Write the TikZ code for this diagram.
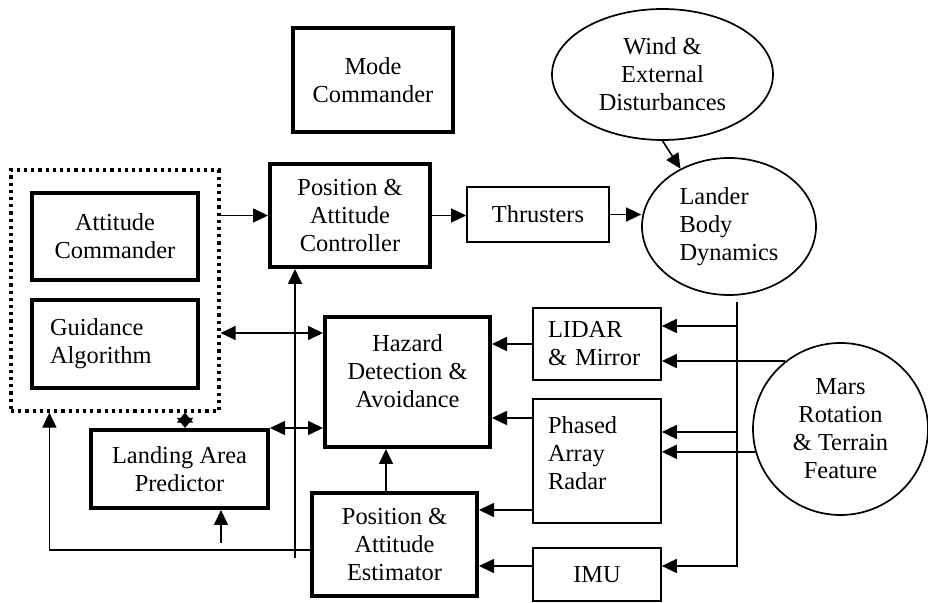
\documentclass[tikz,border=0pt]{standalone}
\usepackage{fontspec}
\setmainfont{Liberation Serif}
\usetikzlibrary{shapes.geometric, arrows.meta, positioning, fit}

\begin{document}
\begin{tikzpicture}[
    x=0.5pt, y=-0.5pt,
    every node/.style={font=\fontsize{12.2}{14}\selectfont},
    mainbox/.style={draw, line width=2pt, align=center, inner sep=2pt},
    sensorbox/.style={draw, line width=0.85pt, align=center, inner sep=2pt},
    envblob/.style={ellipse, draw, line width=0.85pt, align=center, inner sep=0pt},
    grpbox/.style={draw, line width=1.6pt, dash pattern=on 1.6pt off 2pt},
    flow/.style={-{Triangle[length=7.5pt,width=7pt]}, line width=0.8pt},
    dflow/.style={{Triangle[length=7.5pt,width=7pt]}-{Triangle[length=7.5pt,width=7pt]}, line width=0.8pt}
]
    \useasboundingbox (0,0) rectangle (928,603);

    % on-board blocks
    \node[mainbox, minimum width=80pt, minimum height=52pt] (mode) at (373,80) {Mode\\Commander};
    \node[mainbox, minimum width=80pt, minimum height=51.5pt] (ctrl) at (350,215.5) {Position \&\\Attitude\\Controller};
    \node[mainbox, minimum width=83pt, minimum height=43.5pt] (att) at (115,236.5) {Attitude\\Commander};
    \node[mainbox, text width=65pt, inner xsep=9pt, align=left, minimum height=44pt] (guid) at (115,344) {Guidance\\Algorithm};
    \node[grpbox, fit=(att)(guid), inner xsep=9.5pt, inner ysep=10.5pt] (grp) {};
    \node[mainbox, minimum width=82.5pt, minimum height=65pt, text depth=11pt] (hazard) at (407.5,382) {Hazard\\Detection \&\\Avoidance};
    \node[mainbox, minimum width=88.5pt, minimum height=39pt] (lap) at (179.5,469) {Landing Area\\Predictor};
    \node[mainbox, minimum width=82.5pt, minimum height=51.5pt] (est) at (394.5,544.5) {Position \&\\Attitude\\Estimator};

    % sensors and actuators
    \node[sensorbox, text width=49pt, inner xsep=7.5pt, align=left, minimum height=36pt] (lidar) at (597,344) {LIDAR\\\& Mirror};
    \node[sensorbox, text width=49pt, inner xsep=7.5pt, align=left, minimum height=62pt, text depth=36pt] (radar) at (597,461) {Phased\\Array\\Radar};
    \node[sensorbox, minimum width=64pt, minimum height=26.5pt] (imu) at (597,574.5) {IMU};
    \node[sensorbox, minimum width=71pt, minimum height=27.5pt] (thr) at (538,214.5) {Thrusters};

    % environment
    \node[envblob, minimum width=110.5pt, minimum height=65.5pt] (wind) at (662.5,74.5) {Wind \&\\External\\Disturbances};
    \node[envblob, minimum width=87pt, minimum height=68.5pt, align=left] (lander) at (729,226.5) {Lander\\Body\\Dynamics};
    \node[envblob, minimum width=87.5pt, minimum height=86pt] (mars) at (840.5,429) {Mars\\Rotation\\\& Terrain\\Feature};

    % free ends
    \coordinate (bustop) at ([xshift=4pt,yshift=-3pt]lander.south);
    \coordinate (lidarin) at ([yshift=9pt]lidar.east);
    \coordinate (radarin) at ([yshift=14.5pt]radar.east);
    \coordinate (imuin) at ([yshift=4.25pt]imu.east);
    \coordinate (guidlink) at ([yshift=5.5pt]guid.east);
    \coordinate (fbend) at (295,558);
    \coordinate (lapin) at (221,543);

    % connectors
    \draw[flow] (grp.east |- ctrl.west) -- (ctrl.west);
    \draw[flow] (ctrl.east) -- (ctrl.east -| thr.west);
    \draw[flow] (thr.east) -- (thr.east -| lander.west);
    \draw[flow] (wind.south) -- (lander.130);
    \draw[flow] (bustop) |- (imuin);
    \draw[flow] (bustop |- lidarin) -- (lidarin);
    \draw[flow] (bustop |- radarin) -- (radarin);
    \draw[flow] (mars.129) -- (mars.129 -| lidar.east);
    \draw[flow] (mars.195) -- (mars.195 -| radar.east);
    \draw[flow] (lidar.west) -- (lidar.west -| hazard.east);
    \draw[flow] ([yshift=21.5pt]radar.west) -- ([yshift=21.5pt]radar.west -| hazard.east);
    \draw[flow] ([yshift=-24.5pt]radar.west) -- ([yshift=-24.5pt]radar.west -| est.east);
    \draw[flow] ([yshift=4.25pt]imu.west) -- ([yshift=4.25pt]imu.west -| est.east);
    \draw[flow] ([xshift=-4.25pt]est.north) -- ([xshift=-4.25pt]est.north |- hazard.south);
    \draw[dflow] (grp.east |- guidlink) -- (hazard.west |- guidlink);
    \draw[dflow, {Triangle[length=5pt,width=8pt]}-{Triangle[length=5pt,width=8pt]}] ([xshift=2.75pt]lap.north) -- ([xshift=2.75pt]lap.north |- grp.south);
    \draw[dflow] (lap.north east) -- (lap.north east -| hazard.west);
    \draw[flow] ([yshift=-2.75pt]est.west) -| ([xshift=20pt]grp.south west);
    \draw[flow] (fbend) -- (fbend |- ctrl.south);
    \draw[flow] (lapin) -- (lapin |- lap.south);
\end{tikzpicture}
\end{document}
